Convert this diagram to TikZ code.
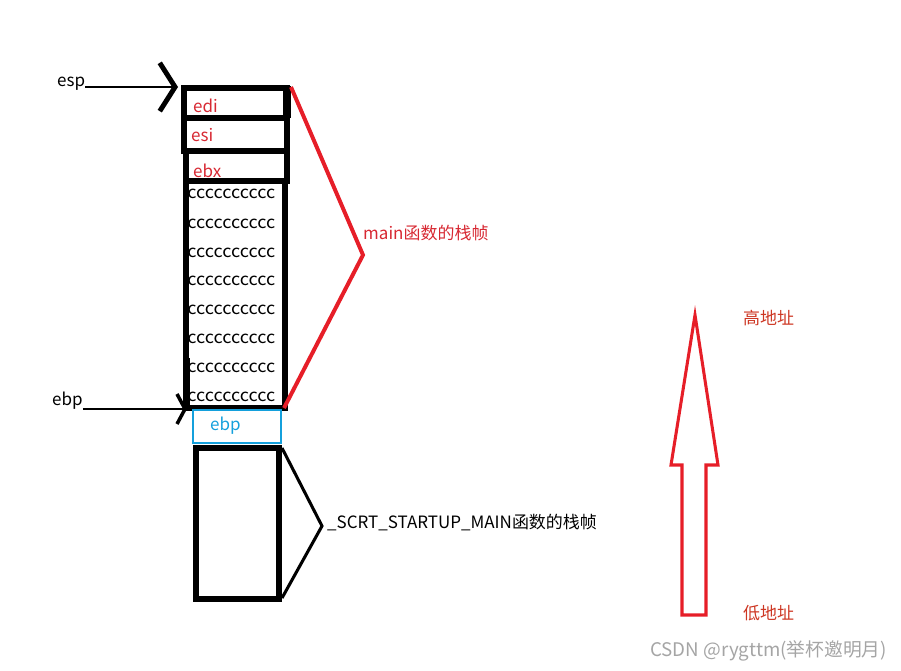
\documentclass[tikz,border=0pt]{standalone}
\usepackage{fontspec}
\newfontfamily\cjk{Noto Sans CJK SC}
\usetikzlibrary{arrows.meta,positioning}
\definecolor{frred}{RGB}{230,30,40}
\definecolor{txred}{RGB}{215,40,50}
\definecolor{ebpblue}{RGB}{20,160,220}
\definecolor{adrred}{RGB}{205,55,35}
\definecolor{wmgray}{RGB}{165,165,165}

\begin{document}
\begin{tikzpicture}[x=0.03cm,y=-0.03cm,
  cell/.style={line width=4.6pt},
  txt/.style={font=\cjk\fontsize{14.5}{17}\selectfont,inner sep=0pt,anchor=west},
  ptr/.style={line width=2pt}]
  \useasboundingbox (0,0) rectangle (901,670);

  % main frame
  \draw[cell] (184,88) rectangle (287,118);
  \draw[cell] (184,118) rectangle (287,151);
  \draw[cell] (186,151) rectangle (287,181);
  \draw[cell] (186,181) rectangle (285,408);
  \draw[line width=6.5pt] (287,86) -- (287,118);
  \draw[line width=0.6pt] (189,358) -- (189,406);
  \node[txt,txred] (edi) at (193,106) {edi};
  \node[txt,txred] (esi) at (191,135) {esi};
  \node[txt,txred] (ebx) at (193,171) {ebx};
  \foreach \y [count=\i] in {194,224,253,281,310,339,368,397}
    \node[txt,xscale=1.06] (c\i) at (187,\y) {cccccccccc};

  % saved ebp
  \draw[ebpblue,line width=2.2pt] (193,410) rectangle (281,443);
  \node[txt,ebpblue] (oldebp) at (210,426) {ebp};

  % caller frame
  \draw[cell] (196,448) rectangle (279,599);

  % pointers
  \coordinate (espTip) at (178,87);
  \coordinate (ebpTip) at (187,409);
  \node[txt] (esp) at (57,84) {esp};
  \node[txt] (ebp) at (52,401) {ebp};
  \draw[ptr,-{Straight Barb[length=4.6mm,width=14.5mm,line width=4.2pt]}] (esp.east |- espTip) -- (espTip);
  \draw[ptr,-{Straight Barb[length=2.4mm,width=9mm,line width=3pt]}] (ebp.east |- ebpTip) -- (ebpTip);

  % braces
  \coordinate (mTop) at (291,87);
  \coordinate (mTip) at (363,255);
  \coordinate (mBot) at (284,408);
  \draw[frred,line width=3.4pt] (mTop) -- (mTip) -- (mBot);
  \node[txt,txred] (mainlbl) at (363,233) {main函数的栈帧};

  \coordinate (sTop) at (282,448);
  \coordinate (sTip) at (322,526);
  \coordinate (sBot) at (282,598);
  \draw[line width=2.6pt] (sTop) -- (sTip) -- (sBot);
  \node[txt] (startlbl) at (327,523) {\_SCRT\_STARTUP\_MAIN函数的栈帧};

  % address arrow
  \draw[frred,line width=2.6pt] (682,615) -- (682,465) -- (671,465) -- (695,315)
    -- (718,465) -- (706,465) -- (706,615) -- cycle;
  \node[txt,adrred] (hi) at (743,318) {高地址};
  \node[txt,adrred] (lo) at (743,613) {低地址};

  \node[txt,wmgray,font=\cjk\fontsize{16}{19}\selectfont] (mark) at (650,651) {CSDN @rygttm(举杯邀明月)};
\end{tikzpicture}
\end{document}
